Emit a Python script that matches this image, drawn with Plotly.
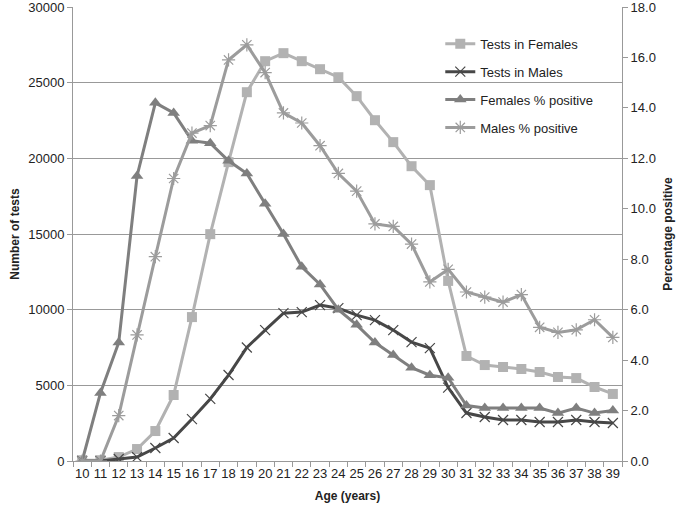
import plotly.graph_objects as go

ages = [str(a) for a in range(10, 40)]

tests_females = [50, 50, 260, 790, 1980, 4360, 9510, 14990, 19750, 24370,
                 26420, 26950, 26420, 25890, 25360, 24110, 22520, 21070, 19480, 18230,
                 11900, 6940, 6340, 6210, 6080, 5880, 5550, 5480, 4890, 4430]
tests_males = [0, 0, 130, 260, 860, 1520, 2770, 4100, 5680, 7500,
               8650, 9770, 9840, 10300, 10100, 9640, 9310, 8650, 7860, 7460,
               4850, 3170, 2910, 2710, 2710, 2580, 2580, 2710, 2580, 2510]
females_pct = [0.0, 2.7, 4.7, 11.3, 14.2, 13.8, 12.7, 12.6, 11.9, 11.4,
               10.2, 9.0, 7.7, 7.0, 6.0, 5.4, 4.7, 4.2, 3.7, 3.4,
               3.3, 2.2, 2.1, 2.1, 2.1, 2.1, 1.9, 2.1, 1.9, 2.0]
males_pct = [0.0, 0.0, 1.8, 5.0, 8.1, 11.2, 13.0, 13.3, 15.9, 16.5,
             15.4, 13.8, 13.4, 12.5, 11.4, 10.7, 9.4, 9.3, 8.6, 7.1,
             7.6, 6.7, 6.5, 6.3, 6.6, 5.3, 5.1, 5.2, 5.6, 4.9]

fig = go.Figure()

fig.add_trace(go.Scatter(x=ages, y=tests_females, name="Tests in Females", legendgroup="a",
                         mode="lines+markers", line=dict(color="#b2b2b2", width=3),
                         marker=dict(symbol="square", size=10, color="#b2b2b2")))
fig.add_trace(go.Scatter(x=ages, y=tests_males, name="Tests in Males", legendgroup="b",
                         mode="lines+markers", line=dict(color="#474747", width=3),
                         marker=dict(symbol="x-thin-open", size=10,
                                     line=dict(color="#474747", width=1.2))))
fig.add_trace(go.Scatter(x=ages, y=females_pct, name="Females % positive", legendgroup="c",
                         mode="lines+markers", line=dict(color="#7f7f7f", width=3),
                         marker=dict(symbol="triangle-up", size=11, color="#7f7f7f"),
                         yaxis="y2"))
fig.add_trace(go.Scatter(x=ages, y=males_pct, name="Males % positive", legendgroup="d",
                         mode="lines+markers", line=dict(color="#9c9c9c", width=3),
                         marker=dict(symbol="asterisk-open", size=11,
                                     line=dict(color="#9c9c9c", width=1.2)),
                         yaxis="y2"))

font = "Liberation Sans, Arial, sans-serif"

fig.update_layout(
    width=685, height=514,
    margin=dict(l=73, r=63, t=7, b=53),
    paper_bgcolor="white", plot_bgcolor="white",
    font=dict(family=font, size=13, color="#222"),
    legend=dict(x=0.669, y=0.952, xanchor="left", yanchor="top",
                bgcolor="rgba(0,0,0,0)", font=dict(size=13, color="#222"),
                tracegroupgap=8, itemwidth=30),
    xaxis=dict(type="category", range=[-0.5, 29.5], tickson="boundaries", ticks="outside",
               ticklen=5, tickcolor="#999", showline=True, linecolor="#999", linewidth=1,
               showgrid=False, tickfont=dict(size=13), tickangle=0, automargin=False,
               title=dict(text="<b>Age (years)</b>", font=dict(size=12), standoff=12)),
    yaxis=dict(range=[0, 30000], dtick=5000, tickformat="d", showgrid=True, gridcolor="#999",
               gridwidth=1, showline=True, linecolor="#999", ticks="outside",
               ticklen=5, tickcolor="#999", zeroline=False, tickfont=dict(size=13),
               ticklabeloverflow="allow", automargin=False,
               title=dict(text="<b>Number of tests</b>", font=dict(size=12), standoff=6)),
    yaxis2=dict(range=[0, 18], dtick=2, tickformat=".1f", overlaying="y", side="right",
                showgrid=False, showline=True, linecolor="#999", ticks="outside",
                ticklen=5, tickcolor="#999", zeroline=False, tickfont=dict(size=13),
                ticklabeloverflow="allow", automargin=False,
                title=dict(text="<b>Percentage positive</b>", font=dict(size=12), standoff=8)),
)

fig.write_html("out.html", config={"displayModeBar": False},
               post_script="document.body.style.margin='0';")
